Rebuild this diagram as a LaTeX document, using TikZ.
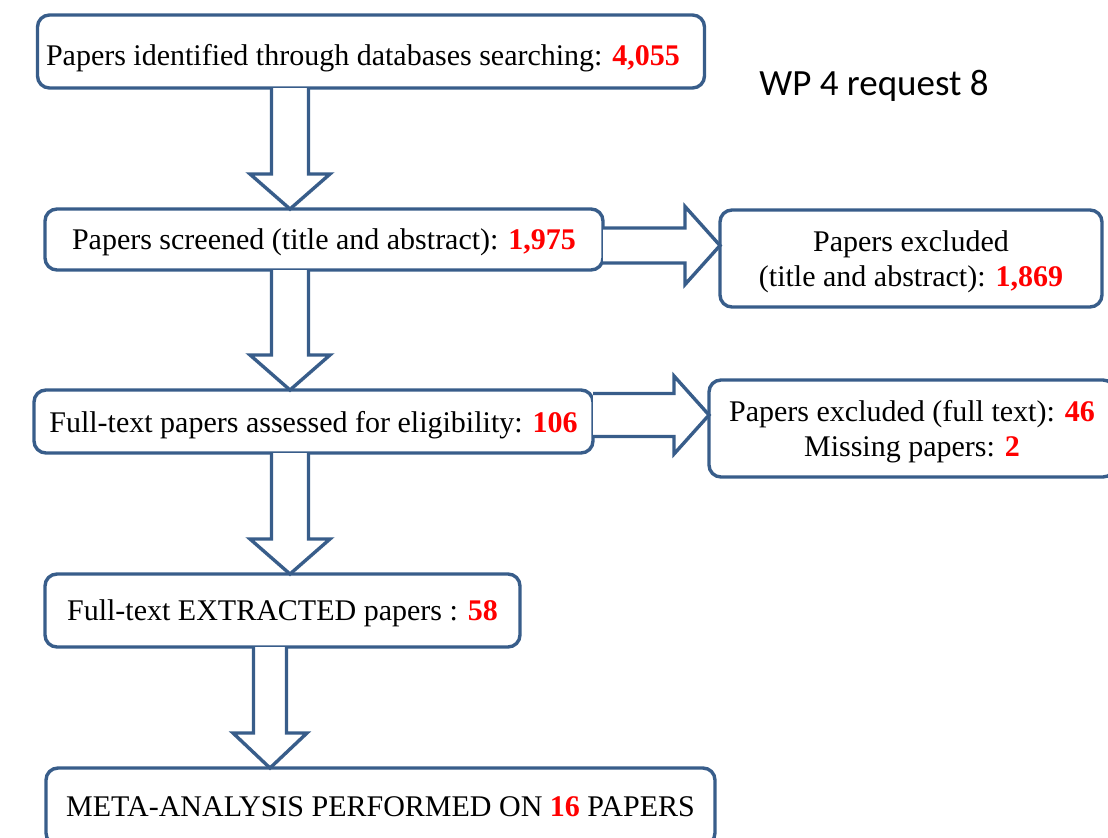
\documentclass[tikz,border=0pt]{standalone}
\usepackage{fontspec}
\setmainfont{Liberation Serif}
\newfontfamily\notefont{Carlito}
\usepackage{xcolor}
\usepackage{tikz}
\usetikzlibrary{calc}
\definecolor{boxBlue}{RGB}{56,93,138}
\definecolor{numRed}{RGB}{255,0,0}
\newcommand{\nb}[1]{\textbf{\textcolor{numRed}{#1}}}
% hollow block arrows: spine, from node, to node, shaft half width, head half width
\newcommand{\downblock}[5]{%
  \draw[blockarrow] let \p1=(#1,0), \p2=(#2.south), \p3=(#3.north) in
    (\x1-#4,\y2) -- (\x1-#4,\y3+17.5pt) -- (\x1-#5,\y3+17.5pt) -- (\x1,\y3)
    -- (\x1+#5,\y3+17.5pt) -- (\x1+#4,\y3+17.5pt) -- (\x1+#4,\y2);}
\newcommand{\rightblock}[5]{%
  \draw[blockarrow] let \p1=(0,#1), \p2=(#2.east), \p3=(#3.west) in
    (\x2,\y1+#4) -- (\x3-17.5pt,\y1+#4) -- (\x3-17.5pt,\y1+#5) -- (\x3,\y1)
    -- (\x3-17.5pt,\y1-#5) -- (\x3-17.5pt,\y1-#4) -- (\x2,\y1-#4);}

\begin{document}
\begin{tikzpicture}[x=0.5pt,y=-0.5pt,
  stage/.style={draw=boxBlue,line width=1.7pt,rounded corners=6pt,fill=white,
    align=center,inner sep=0pt,outer sep=0pt,text depth=0pt,
    font=\fontsize{15}{17.5}\selectfont},
  blockarrow/.style={draw=boxBlue,line width=1.7pt,fill=white,line join=miter}]
  \useasboundingbox (0,0) rectangle (1108,837);
  \clip (0,0) rectangle (1108,837);
  % main column
  \node[stage,minimum width=333.5pt,minimum height=36.5pt,text height=14pt] (ident) at (371,51.5)
    {Papers identified through databases searching: \nb{4,055}\hspace*{8pt}};
  \node[stage,minimum width=279pt,minimum height=30.5pt] (screen) at (324,239.5)
    {Papers screened (title and abstract): \nb{1,975}};
  \node[stage,minimum width=279.5pt,minimum height=31.5pt] (full) at (313.5,421.5)
    {Full-text papers assessed for eligibility: \nb{106}};
  \node[stage,minimum width=237.5pt,minimum height=36.5pt] (extract) at (282.5,610.5)
    {Full-text EXTRACTED papers : \nb{58}};
  \node[stage,minimum width=334.5pt,minimum height=38.5pt] (meta) at (380.5,806.5)
    {META-ANALYSIS PERFORMED ON \nb{16} PAPERS};
  % exclusions
  \node[stage,minimum width=191pt,minimum height=48.5pt] (exclTA) at (911,258.5)
    {Papers excluded\\(title and abstract): \nb{1,869}};
  \node[stage,minimum width=203pt,minimum height=48.5pt] (exclFT) at (912,428.5)
    {Papers excluded (full text): \nb{46}\\Missing papers: \nb{2}};
  \node[font=\notefont\fontsize{18.5}{20}\selectfont] (wp) at (874,86) {WP 4 request 8};
  % arrows
  \downblock{290}{ident}{screen}{9.25pt}{20pt}
  \downblock{290}{screen}{full}{9.25pt}{20pt}
  \downblock{290}{full}{extract}{9.25pt}{20pt}
  \downblock{270}{extract}{meta}{8.25pt}{18.5pt}
  \rightblock{245.5}{screen}{exclTA}{8.75pt}{19.5pt}
  \rightblock{415}{full}{exclFT}{10.75pt}{19.5pt}
\end{tikzpicture}
\end{document}
